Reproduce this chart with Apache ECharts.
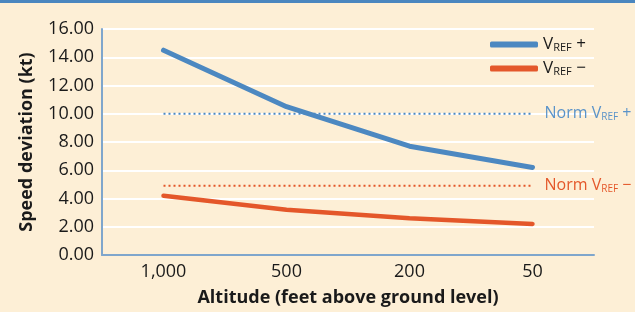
<!DOCTYPE html>
<html>
<head>
<meta charset="utf-8">
<script src="https://cdn.jsdelivr.net/npm/echarts@6/dist/echarts.min.js"></script>
<style>
  html, body { margin: 0; padding: 0; background: #fdefd6; }
  #chart { width: 635px; height: 312px; }
</style>
</head>
<body>
<div id="chart"></div>
<script>
var altitudes = ['1,000', '500', '200', '50'];
var vrefPlus = [14.5, 10.5, 7.7, 6.2];
var vrefMinus = [4.2, 3.2, 2.6, 2.2];
var normPlus = [10.0, 10.0, 10.0, 10.0];
var normMinus = [4.9, 4.9, 4.9, 4.9];

var BLUE = '#4c88c1';
var RED = '#e4572a';
var FONT = 'Open Sans';

var myChart = echarts.init(document.getElementById('chart'));

// rich text for the V-REF labels
var vrefRich = function (color, size) {
  return {
    v: { fontFamily: FONT, fontSize: size, color: color },
    s: { fontFamily: FONT, fontSize: Math.round(size * 0.62), color: color, verticalAlign: 'bottom', padding: [6, 0, 0, 0] }
  };
};

var option = {
  backgroundColor: '#fdefd6',
  animation: false,
  graphic: [
    { type: 'rect', left: 0, top: 0, shape: { width: 635, height: 3 }, style: { fill: '#4a86bf' } }
  ],
  legend: {
    orient: 'vertical',
    left: 490,
    top: 36,
    padding: 0,
    itemWidth: 48,
    itemHeight: 6,
    itemGap: 7,
    icon: 'roundRect',
    data: ['VREF +', 'VREF −'],
    formatter: function (name) {
      return '{v|V}{s|REF}{v|' + name.slice(4) + '}';
    },
    textStyle: { rich: vrefRich('#1a1a1a', 17) }
  },
  grid: { left: 102, right: 41, top: 29, bottom: 56 },
  xAxis: {
    type: 'category',
    data: altitudes,
    name: 'Altitude (feet above ground level)',
    nameLocation: 'middle',
    nameGap: 34,
    nameTextStyle: { fontFamily: FONT, fontSize: 18, fontWeight: 'bold', color: '#1a1a1a' },
    axisLine: { show: true, lineStyle: { color: '#7fa6cc', width: 2 } },
    axisTick: { show: false },
    axisLabel: { fontFamily: FONT, fontSize: 18, color: '#1a1a1a', margin: 8 },
    splitLine: { show: false }
  },
  yAxis: {
    type: 'value',
    min: 0,
    max: 16,
    interval: 2,
    name: 'Speed deviation (kt)',
    nameLocation: 'middle',
    nameGap: 66,
    nameTextStyle: { fontFamily: FONT, fontSize: 18, fontWeight: 'bold', color: '#1a1a1a' },
    axisLine: { show: true, lineStyle: { color: '#7fa6cc', width: 2 } },
    axisTick: { show: false },
    axisLabel: {
      fontFamily: FONT, fontSize: 18, color: '#1a1a1a', margin: 8,
      formatter: function (v) { return v.toFixed(2); }
    },
    splitLine: { show: true, lineStyle: { color: '#ffffff', width: 2 } }
  },
  series: [
    {
      name: 'Norm VREF +',
      type: 'line',
      data: normPlus,
      symbol: 'none',
      silent: true,
      lineStyle: { color: BLUE, width: 2, type: [2, 3] },
      endLabel: {
        show: true,
        distance: 12,
        formatter: '{v|Norm V}{s|REF}{v| +}',
        rich: vrefRich('#5a93c9', 16)
      }
    },
    {
      name: 'Norm VREF −',
      type: 'line',
      data: normMinus,
      symbol: 'none',
      silent: true,
      lineStyle: { color: RED, width: 2, type: [2, 3] },
      endLabel: {
        show: true,
        distance: 12,
        formatter: '{v|Norm V}{s|REF}{v| −}',
        rich: vrefRich(RED, 16)
      }
    },
    {
      name: 'VREF +',
      type: 'line',
      data: vrefPlus,
      symbol: 'none',
      itemStyle: { color: BLUE },
      lineStyle: { color: BLUE, width: 5, cap: 'round', join: 'round' }
    },
    {
      name: 'VREF −',
      type: 'line',
      data: vrefMinus,
      symbol: 'none',
      itemStyle: { color: RED },
      lineStyle: { color: RED, width: 4.5, cap: 'round', join: 'round' }
    }
  ]
};

myChart.setOption(option);
</script>
</body>
</html>
